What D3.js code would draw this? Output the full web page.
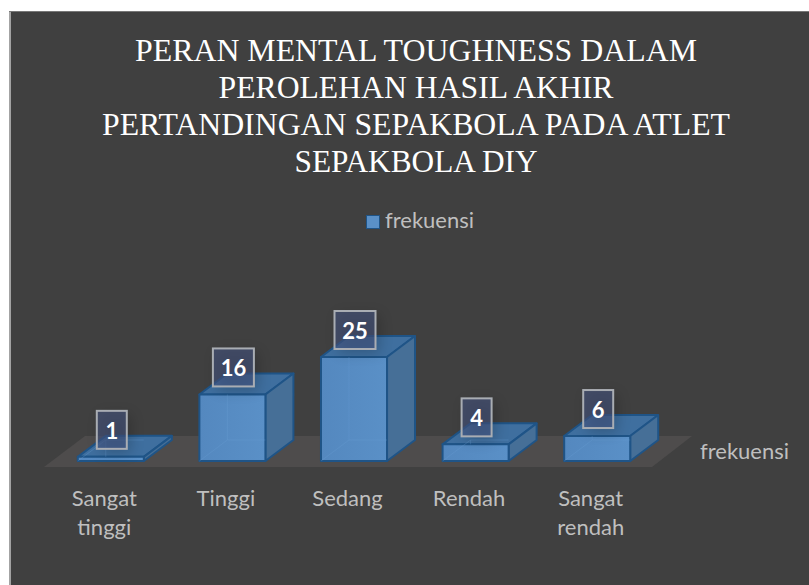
<!DOCTYPE html>
<html>
<head>
<meta charset="utf-8">
<script src="https://cdn.jsdelivr.net/npm/d3@7"></script>
<style>
  html, body { margin: 0; padding: 0; background: #fff; }
  svg { display: block; }
</style>
</head>
<body>
<div id="chart"></div>
<script>
const categories = ['Sangat tinggi', 'Tinggi', 'Sedang', 'Rendah', 'Sangat rendah'];
const frekuensi = [1, 16, 25, 4, 6];
const seriesName = 'frekuensi';
const titleLines = [
  'PERAN MENTAL TOUGHNESS DALAM',
  'PEROLEHAN HASIL AKHIR',
  'PERTANDINGAN SEPAKBOLA PADA ATLET',
  'SEPAKBOLA DIY'
];
const titleWidths = [562, 395, 628, 243];

const width = 809, height = 585;
const labelFont = 'Lato, sans-serif';
const labelSize = 22;
const depthX = 28, depthY = 21;
const baseY = 461;

const svg = d3.select('#chart').append('svg')
  .attr('width', width)
  .attr('height', height);

const defs = svg.append('defs');
defs.append('filter').attr('id', 'blur')
  .attr('x', '-50%').attr('y', '-50%').attr('width', '200%').attr('height', '200%')
  .append('feGaussianBlur').attr('stdDeviation', 7);

const frontGrad = defs.append('linearGradient').attr('id', 'front')
  .attr('x1', 0).attr('x2', 1).attr('y1', 0).attr('y2', 0);
frontGrad.append('stop').attr('offset', '0%').attr('stop-color', '#5488bf');
frontGrad.append('stop').attr('offset', '100%').attr('stop-color', '#5a90c7');

// panel
svg.append('rect')
  .attr('x', 9).attr('y', 11)
  .attr('width', width - 9).attr('height', height - 11)
  .attr('fill', '#404040');
svg.append('line').attr('x1', 10).attr('x2', 10).attr('y1', 11).attr('y2', height)
  .attr('stroke', '#a3a3a3').attr('stroke-width', 2);
svg.append('line').attr('x1', 9).attr('x2', width).attr('y1', 11.5).attr('y2', 11.5)
  .attr('stroke', '#777');

// title
svg.append('g').selectAll('text')
  .data(titleLines)
  .join('text')
  .attr('x', 416)
  .attr('y', (d, i) => 61 + i * 37)
  .attr('text-anchor', 'middle')
  .attr('font-family', '"Liberation Serif", serif')
  .attr('font-size', 32)
  .attr('fill', '#fff')
  .attr('textLength', (d, i) => titleWidths[i])
  .attr('lengthAdjust', 'spacingAndGlyphs')
  .text(d => d);

// legend
svg.append('rect')
  .attr('x', 366.5).attr('y', 215.5)
  .attr('width', 13).attr('height', 13)
  .attr('fill', '#5a90c7').attr('stroke', '#1f5487');
svg.append('text')
  .attr('x', 385).attr('y', 228)
  .attr('font-family', labelFont).attr('font-size', labelSize)
  .attr('fill', '#bfbfbf')
  .text(seriesName);

const x = d3.scaleBand()
  .domain(categories)
  .range([50, 658])
  .paddingInner(0.457)
  .paddingOuter(0.2285);

const y = d3.scaleLinear()
  .domain([0, 25])
  .range([baseY, 357]);

// floor
const floorFront = baseY + 6, floorBack = floorFront - 31;
svg.append('path')
  .attr('d', d3.line()([[44, floorFront], [652, floorFront], [692, floorBack], [85, floorBack]]) + 'Z')
  .attr('fill', '#4e4c4c');

// bars
const data = categories.map((c, i) => ({ c, v: frekuensi[i] }));
const bars = svg.append('g').selectAll('g').data(data).join('g');
const poly = d3.line();
const stroke = '#1f5487';

bars.append('path') // top
  .attr('d', d => {
    const x0 = x(d.c), x1 = x0 + x.bandwidth(), t = y(d.v);
    return poly([[x0, t], [x1, t], [x1 + depthX, t - depthY], [x0 + depthX, t - depthY]]) + 'Z';
  })
  .attr('fill', '#3f6f9f').attr('stroke', stroke).attr('stroke-width', 2).attr('stroke-linejoin', 'round');

bars.append('path') // side
  .attr('d', d => {
    const x1 = x(d.c) + x.bandwidth(), t = y(d.v);
    return poly([[x1, t], [x1 + depthX, t - depthY], [x1 + depthX, baseY - depthY], [x1, baseY]]) + 'Z';
  })
  .attr('fill', '#466f97').attr('stroke', stroke).attr('stroke-width', 2).attr('stroke-linejoin', 'round');

bars.append('rect') // front
  .attr('x', d => x(d.c))
  .attr('y', d => y(d.v))
  .attr('width', x.bandwidth())
  .attr('height', d => baseY - y(d.v))
  .attr('fill', 'url(#front)')
  .attr('stroke', stroke).attr('stroke-width', 2).attr('stroke-linejoin', 'round');

bars.append('path') // back edges seen through the front
  .attr('d', d => {
    const x0 = x(d.c), t = y(d.v);
    const bx = x0 + depthX, by = baseY - depthY;
    if (t - depthY >= by) return poly([[x0, baseY], [bx, by]]);
    return poly([[x0, baseY], [bx, by], [bx, Math.max(t, t - depthY)]]) + poly([[bx, by], [x0 + x.bandwidth(), by]]);
  })
  .attr('fill', 'none').attr('stroke', '#6a9fd4').attr('stroke-opacity', 0.3);

// value labels
const labels = svg.append('g').selectAll('g').data(data).join('g')
  .attr('transform', d => `translate(${x(d.c) + x.bandwidth() / 2 + 1},${y(d.v) - 27})`);
const boxW = d => String(d.v).length > 1 ? 41 : 30;

labels.append('rect') // soft shadow
  .attr('x', d => -boxW(d) / 2 + 4)
  .attr('y', -15)
  .attr('width', boxW)
  .attr('height', 38)
  .attr('fill', '#000').attr('opacity', 0.2)
  .attr('filter', 'url(#blur)');
labels.append('rect')
  .attr('x', d => -boxW(d) / 2)
  .attr('y', -19)
  .attr('width', boxW)
  .attr('height', 38)
  .attr('fill', '#44537e').attr('fill-opacity', 0.6)
  .attr('stroke', '#a9adb3').attr('stroke-width', 2);
labels.append('text')
  .attr('text-anchor', 'middle')
  .attr('y', 9)
  .attr('font-family', labelFont).attr('font-weight', 700).attr('font-size', labelSize)
  .attr('fill', '#fff')
  .text(d => d.v);

// category labels
const catText = svg.append('g').selectAll('text').data(categories).join('text')
  .attr('text-anchor', 'middle')
  .attr('font-family', labelFont).attr('font-size', labelSize)
  .attr('fill', '#bfbfbf');
catText.selectAll('tspan')
  .data(d => d.split(' ').map(w => ({ w, c: d })))
  .join('tspan')
  .attr('x', d => x(d.c) + x.bandwidth() / 2 - 6.5)
  .attr('y', (d, i) => 506 + i * 29)
  .text(d => d.w);

// series (depth axis) label
svg.append('text')
  .attr('x', 700).attr('y', 459)
  .attr('font-family', labelFont).attr('font-size', labelSize)
  .attr('fill', '#bfbfbf')
  .text(seriesName);
</script>
</body>
</html>
